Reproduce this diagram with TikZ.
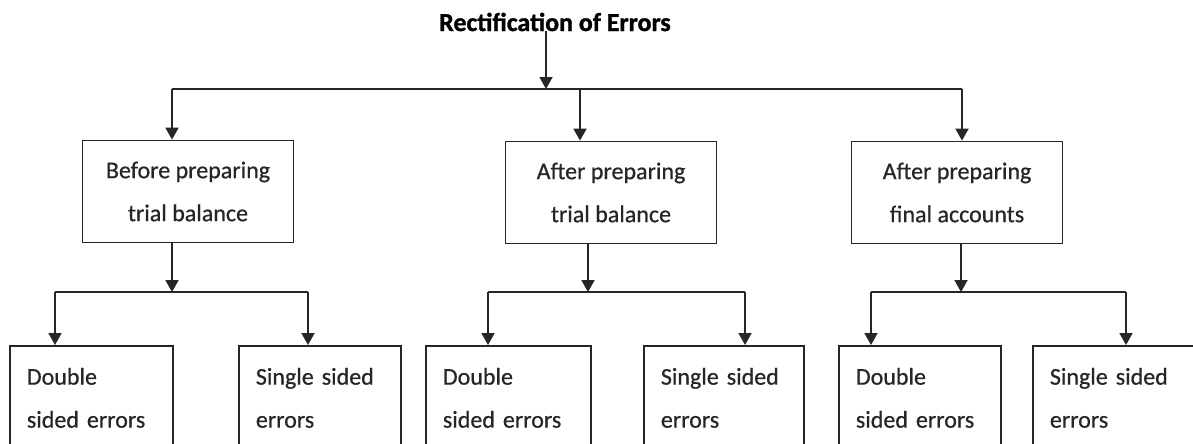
\documentclass[tikz,border=0pt]{standalone}
\usepackage{fontspec}
\setmainfont{Carlito}
\newfontfamily\boxfont{Carlito}[FakeBold=0.6]
\newfontfamily\titlefont{Carlito Bold}[FakeBold=1.2]
\usetikzlibrary{arrows.meta}
\definecolor{ink}{HTML}{262626}
\begin{document}
\begin{tikzpicture}[x=1pt,y=-1pt,
  line/.style={draw=ink,line width=1.8pt},
  arr/.style={line,-{Triangle[width=13pt,length=12pt]}},
  topbox/.style={draw=ink,line width=1.8pt,minimum width=211pt,minimum height=102pt,
     align=center,text=ink,font=\boxfont\fontsize{24}{43}\selectfont,inner sep=0pt},
  botbox/.style={draw=ink,line width=1.8pt,minimum height=104pt,anchor=north west,
     align=left,text=ink,font=\boxfont\fontsize{24}{43}\selectfont,inner xsep=17pt,inner ysep=0pt},
  titlestyle/.style={font=\titlefont\fontsize{25.9}{30}\selectfont,text=black,inner sep=0pt}]
\useasboundingbox (0,0) rectangle (1193,444);
\clip (0,0) rectangle (1193,444);
\fill[white] (0,0) rectangle (1193,444);

\node[titlestyle] (title) at (555,22) {Rectification of Errors};

\node[topbox] (p1) at (188,191.5) {Before preparing\\trial balance};
\node[topbox] (p2) at (611,192.5) {After preparing\\trial balance};
\node[topbox] (p3) at (957,192.5) {After preparing\\final accounts};

\node[botbox,text width=129pt] (a1) at (9,345) {Double\\sided errors};
\node[botbox,text width=128pt] (a2) at (238,345) {Single sided\\errors};
\node[botbox,text width=131pt] (b1) at (425,345) {Double\\sided errors};
\node[botbox,text width=126pt] (b2) at (643,345) {Single sided\\errors};
\node[botbox,text width=128pt] (c1) at (838,345) {Double\\sided errors};
\node[botbox,text width=140pt] (c2) at (1032,345) {Single sided\\errors};

% top level
\coordinate (j0) at (546,89);
\coordinate (t1) at (172,89);
\coordinate (t2) at (580,89);
\coordinate (t3) at (962,89);
\draw[arr] (j0 |- title.south) -- (j0);
\draw[line] (t1) -- (t3);
\draw[arr] (t1) -- (t1 |- p1.north);
\draw[arr] (t2) -- (t2 |- p2.north);
\draw[arr] (t3) -- (t3 |- p3.north);

% second level
\coordinate (m1) at (172,292);
\coordinate (m2) at (588,292);
\coordinate (m3) at (961,292);
\coordinate (l1) at (55,292);  \coordinate (r1) at (308,292);
\coordinate (l2) at (488,292); \coordinate (r2) at (745,292);
\coordinate (l3) at (871,292); \coordinate (r3) at (1126,292);

\draw[arr] (m1 |- p1.south) -- (m1);
\draw[arr] (m2 |- p2.south) -- (m2);
\draw[arr] (m3 |- p3.south) -- (m3);
\draw[line] (l1) -- (r1);
\draw[line] (l2) -- (r2);
\draw[line] (l3) -- (r3);
\draw[arr] (l1) -- (l1 |- a1.north);
\draw[arr] (r1) -- (r1 |- a2.north);
\draw[arr] (l2) -- (l2 |- b1.north);
\draw[arr] (r2) -- (r2 |- b2.north);
\draw[arr] (l3) -- (l3 |- c1.north);
\draw[arr] (r3) -- (r3 |- c2.north);
\end{tikzpicture}
\end{document}
